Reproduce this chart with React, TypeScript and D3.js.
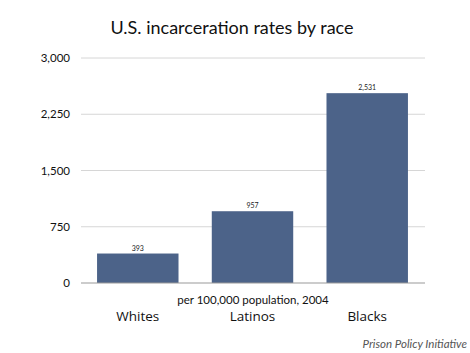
import React from "react";
import * as d3 from "d3";

const categories = ["Whites", "Latinos", "Blacks"];
const values = [393, 957, 2531];
const valueLabels = ["393", "957", "2,531"];
const yTicks = [0, 750, 1500, 2250, 3000];

export default function App() {
  const W = 470, H = 353;
  const x = d3.scaleBand<string>().domain(categories).range([81, 424]).paddingInner(0.29).paddingOuter(0.14);
  const y = d3.scaleLinear().domain([0, 3000]).range([283, 58]);
  const fmt = d3.format(",");
  const font = "Lato, 'Open Sans', sans-serif";
  return (
    <svg width={W} height={H} style={{ position: "absolute", left: 0, top: 0, background: "#fff" }}>
      <text x={232} y={34} textAnchor="middle" fontFamily={font} fontSize={18} fill="#111">
        U.S. incarceration rates by race
      </text>
      {yTicks.map((t) => (
        <g key={t}>
          {t !== 0 && <line x1={81} x2={425} y1={y(t)} y2={y(t)} stroke="#d6d6d6" strokeWidth={1} />}
          <text x={70} y={y(t) + 4} textAnchor="end" fontFamily={font} fontSize={11.5} fill="#111">
            {fmt(t)}
          </text>
        </g>
      ))}
      {categories.map((c, i) => (
        <g key={c}>
          <rect x={x(c)} y={y(values[i])} width={x.bandwidth()} height={y(0) - y(values[i])} fill="#4c6389" />
          <text x={(x(c) as number) + x.bandwidth() / 2} y={y(values[i]) - 3} textAnchor="middle" fontFamily={font} fontSize={7} fill="#222">
            {valueLabels[i]}
          </text>
          <text x={(x(c) as number) + x.bandwidth() / 2} y={321} textAnchor="middle" fontFamily="'Open Sans', sans-serif" fontSize={13.5} fill="#111">
            {c}
          </text>
        </g>
      ))}
      <line x1={81} x2={425} y1={y(0)} y2={y(0)} stroke="#999" strokeWidth={1.2} />
      <text x={253} y={304} textAnchor="middle" fontFamily={font} fontSize={11.5} fill="#111">
        per 100,000 population, 2004
      </text>
      <text x={467} y={348} textAnchor="end" fontFamily={font} fontStyle="italic" fontSize={11.5} fill="#555">
        Prison Policy Initiative
      </text>
    </svg>
  );
}
